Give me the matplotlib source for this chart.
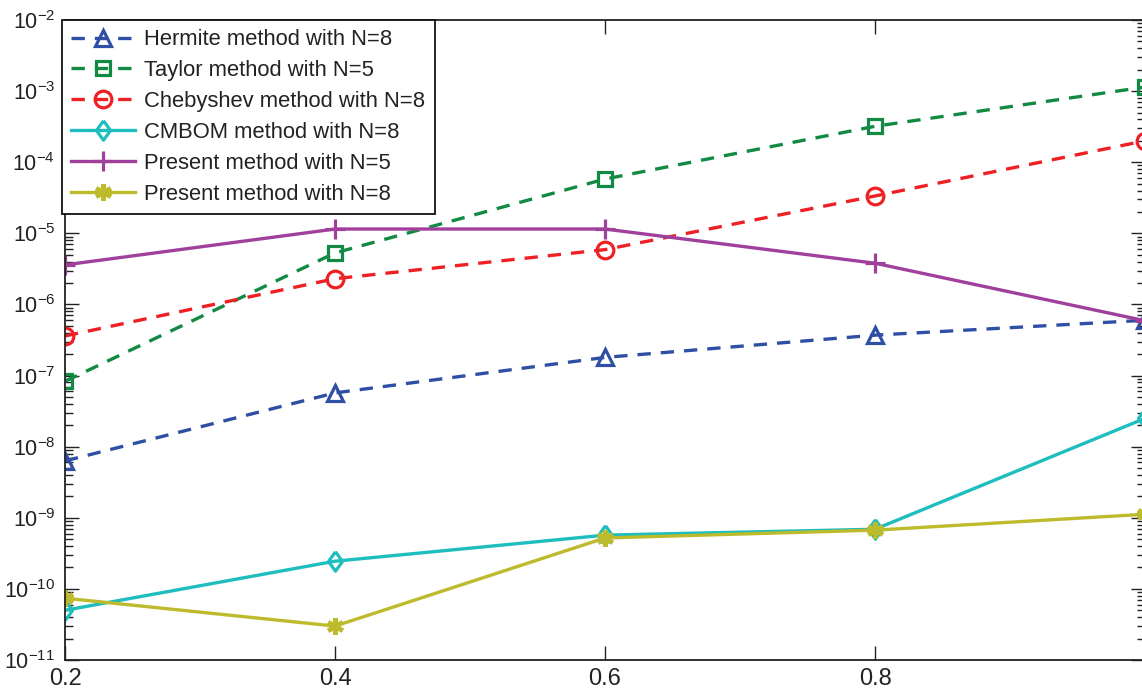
import matplotlib
matplotlib.use("Agg")
import matplotlib.pyplot as plt
from matplotlib.ticker import LogLocator, NullFormatter

plt.rcParams['font.family'] = ['Liberation Sans', 'DejaVu Sans']
plt.rcParams['mathtext.fontset'] = 'custom'
plt.rcParams['mathtext.rm'] = 'Liberation Sans'
plt.rcParams['mathtext.it'] = 'Liberation Sans'
plt.rcParams['mathtext.bf'] = 'Liberation Sans'

x = [0.2, 0.4, 0.6, 0.8, 1.0]
hermite = [6.3e-9, 5.7e-8, 1.8e-7, 3.7e-7, 6.0e-7]
taylor = [8.3e-8, 5.3e-6, 5.8e-5, 3.2e-4, 1.14e-3]
chebyshev = [3.6e-7, 2.3e-6, 5.9e-6, 3.35e-5, 2.0e-4]
cmbom = [5.0e-11, 2.45e-10, 5.7e-10, 6.9e-10, 2.5e-8]
present5 = [3.6e-6, 1.15e-5, 1.15e-5, 3.8e-6, 5.9e-7]
present8 = [7.4e-11, 3.0e-11, 5.2e-10, 6.7e-10, 1.12e-9]

labels = ["Hermite method with N=8", "Taylor method with N=5",
          "Chebyshev method with N=8", "CMBOM method with N=8",
          "Present method with N=5", "Present method with N=8"]
xtick_vals = [0.2, 0.4, 0.6, 0.8, 1.0]
xtick_labels = ["0.2", "0.4", "0.6", "0.8", ""]

fig = plt.figure(figsize=(11.42, 6.91), dpi=100)
ax = fig.add_axes([65/1142, 1-660/691, (1145-65)/1142, (660-20)/691])

diamond = [(0, 1), (0.72, 0), (0, -1), (-0.72, 0), (0, 1)]

lw = 2.4
dash = (0, (4, 3))
ax.plot(x, hermite, color='#2E4FA3', lw=lw, linestyle=dash, marker='^', ms=12,
        mfc='none', mew=2.3, label=labels[0])
ax.plot(x, taylor, color='#138A43', lw=lw, linestyle=dash, marker='s', ms=9.5,
        mfc='none', mew=2.3, label=labels[1])
ax.plot(x, chebyshev, color='#EE2024', lw=lw, linestyle=dash, marker='o', ms=12,
        mfc='none', mew=2.3, label=labels[2])
ax.plot(x, cmbom, color='#1EBDBE', lw=lw, linestyle='-', marker=diamond, ms=14,
        mfc='none', mew=2.3, label=labels[3])
ax.plot(x, present5, color='#A0409C', lw=lw, linestyle='-', marker='+', ms=15,
        mew=2.3, label=labels[4])
ax.plot(x, present8, color='#BDBB2C', lw=lw, linestyle='-', marker=(6, 2, 0), ms=12,
        mew=3.2, label=labels[5])

ax.set_yscale('log')
ax.set_xlim(0.2, 1.0)
ax.set_ylim(1e-11, 1e-2)
ax.set_xticks(xtick_vals)
ax.set_xticklabels(xtick_labels)
ax.yaxis.set_major_locator(LogLocator(base=10, numticks=20))
ax.yaxis.set_minor_locator(LogLocator(base=10, subs=range(2, 10), numticks=100))
ax.yaxis.set_minor_formatter(NullFormatter())
ax.tick_params(which='both', direction='in', top=True, right=True,
               color='#222222', labelcolor='#222222')
ax.tick_params(axis='x', labelsize=17, pad=6)
ax.tick_params(axis='y', labelsize=15.5, pad=7)
ax.tick_params(which='major', length=10, width=1)
ax.tick_params(which='minor', length=6, width=1)
for s in ax.spines.values():
    s.set_linewidth(1.3)
    s.set_color('#222222')

leg = ax.legend(loc='upper left', fontsize=15.8, frameon=True, fancybox=False,
                framealpha=1, edgecolor='#111111', borderaxespad=0,
                handlelength=2.9, borderpad=0.42, labelspacing=0.45,
                handletextpad=0.45, bbox_to_anchor=(-0.003, 1.0))
leg.get_frame().set_linewidth(1.3)
for t in leg.get_texts():
    t.set_color('#222222')

fig.savefig('out.png', dpi=100)
